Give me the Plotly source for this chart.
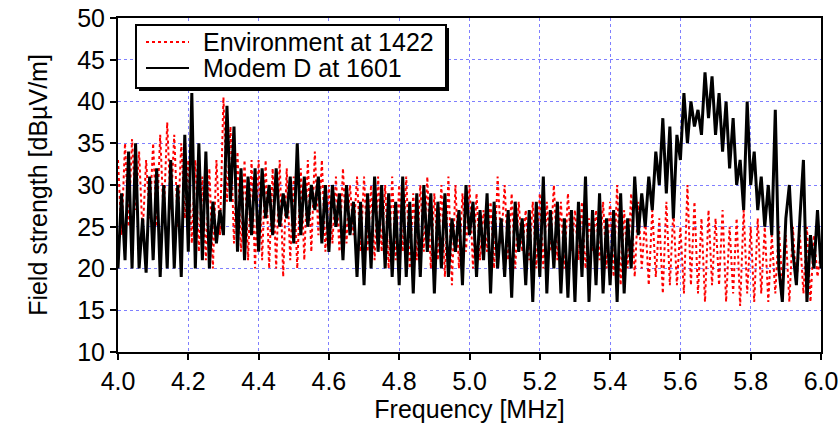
import numpy as np
import plotly.graph_objects as go

# frequency sweep, 0.01 MHz steps from 4.0 to 6.0 MHz
freq_mhz = np.round(np.linspace(4.0, 6.0, 201), 2)

# Environment at 1422 (dBuV/m)
environment = [
    33, 24, 35, 25, 35.5, 27, 34, 24, 33, 26,
    35, 25, 36, 26, 37.5, 27, 36, 25, 35, 26,
    33, 23, 33, 22, 31, 21, 32, 20, 33, 24,
    40.5, 28, 37, 23, 34, 22, 33, 21, 33, 20,
    33, 21, 33, 20, 32, 20, 33, 19, 32, 21,
    31, 20, 32, 21, 33, 22, 34, 24, 33, 22,
    30, 23, 31, 22, 32, 23, 30, 24, 31, 22,
    31, 22, 30, 21, 31, 22, 30, 20, 31, 21,
    30, 22, 31, 20, 29, 21, 30, 22, 31, 20,
    29, 21, 30, 19, 31, 18, 30, 20, 29, 22,
    30, 20, 29, 21, 27, 22, 28, 20, 31, 23,
    30, 21, 29, 20, 28, 22, 27, 21, 28, 20,
    29, 20, 28, 22, 30, 21, 28, 20, 29, 22,
    27, 21, 28, 20, 26, 22, 27, 21, 28, 20,
    28, 19, 30, 18, 27, 20, 29, 19, 28, 20,
    26, 18, 27, 19, 26, 17, 28, 18, 27, 18,
    25, 17, 30, 18, 28, 17, 26, 16, 27, 18,
    26, 18, 27, 16, 25, 17, 26, 15.5, 27, 17,
    25, 16, 26, 17, 25, 16, 24, 17, 25, 18,
    24, 16, 25, 18, 24, 17, 25, 16, 24, 19,
    22,
]

# Modem D at 1601 (dBuV/m)
modem_d = [
    20, 29, 21, 34, 20, 35, 20, 26, 19.5, 31,
    21, 32, 19, 30, 20, 33, 20, 30, 19, 36,
    22, 41, 20, 35, 21, 34, 20, 28, 23, 27,
    24, 39.5, 28, 37, 22, 32, 21, 31, 24, 32,
    22, 32, 26, 30, 24, 32, 25, 29, 26, 31,
    23, 35, 24, 31, 25, 30, 27, 31, 23, 30,
    22, 30, 25, 29, 21, 30, 24, 28, 19, 28,
    18, 29, 20, 31, 22, 30, 20, 29, 19, 28,
    18, 31, 19, 28, 17, 29, 19, 30, 22, 29,
    17, 28, 20, 29, 19, 26, 22, 27, 18, 30,
    24, 28, 19, 27, 21, 29, 17, 28, 20, 26,
    19, 27, 16.5, 28, 22, 26, 18, 27, 16, 28,
    19, 31, 17, 27, 20, 28, 17, 26, 16.5, 27,
    16, 28, 19, 31, 16, 27, 18, 29, 17, 26,
    18, 27, 16, 29, 17, 26, 20, 31, 24, 29,
    25, 31, 27, 34, 30, 38, 29, 37, 26, 36,
    33, 41, 35, 40, 37, 39, 36, 43.5, 38, 43,
    36, 41, 34, 40, 32, 38, 30, 33, 27, 40,
    30, 34, 27, 31, 25, 30, 24, 39, 20, 16,
    26, 30, 22, 18, 26, 33, 16, 24, 20, 27,
    20,
]

series_names = ["Environment at 1422", "Modem D at 1601"]
x_ticks = [4.0, 4.2, 4.4, 4.6, 4.8, 5.0, 5.2, 5.4, 5.6, 5.8, 6.0]
y_ticks = [10, 15, 20, 25, 30, 35, 40, 45, 50]

FONT = "Liberation Sans, Arial, Helvetica, sans-serif"
W, H = 838, 440
L, R, T, B = 118, 17, 18, 88

RED_LINE = dict(color="#ff0000", width=2, dash="dot")
BLACK_LINE = dict(color="black", width=3)

fig = go.Figure()
fig.add_trace(go.Scatter(x=freq_mhz, y=environment, mode="lines",
                         name=series_names[0], line=RED_LINE))
fig.add_trace(go.Scatter(x=freq_mhz, y=modem_d, mode="lines",
                         name=series_names[1], line=BLACK_LINE))

axis_style = dict(showgrid=True, gridcolor="#7f7fff", gridwidth=1, griddash="dot",
                  showline=True, linecolor="black", linewidth=2, mirror=True,
                  ticks="outside", ticklen=6, tickwidth=2, tickcolor="black",
                  zeroline=False, automargin=False, ticklabeloverflow="allow",
                  tickfont=dict(size=25, color="black"))
inner_ticks = dict(ticks="inside", ticklen=6, tickwidth=2, tickcolor="black",
                   showticklabels=False, showgrid=False, zeroline=False,
                   showline=False, automargin=False)

fig.update_layout(
    width=W, height=H,
    margin=dict(l=L, r=R, t=T, b=B),
    paper_bgcolor="white", plot_bgcolor="white",
    font=dict(family=FONT, size=25, color="black"),
    showlegend=False,
    xaxis=dict(range=[4.0, 6.0], tickvals=x_ticks,
               ticktext=[f"{v:.1f}" for v in x_ticks],
               title=dict(text="Frequency [MHz]", standoff=0, font=dict(size=25)),
               **axis_style),
    yaxis=dict(range=[10, 50], tickvals=y_ticks,
               title=dict(text="Field strength [dBµV/m]", standoff=22,
                          font=dict(size=25)),
               **axis_style),
    # inner half of the crossing tick marks
    xaxis2=dict(overlaying="x", anchor="y", side="bottom", range=[4.0, 6.0],
                tickvals=x_ticks, **inner_ticks),
    yaxis2=dict(overlaying="y", anchor="x", side="left", range=[10, 50],
                tickvals=y_ticks, **inner_ticks),
)

# hand-drawn legend box with drop shadow (pixel positions -> paper coords)
def px(xp, yp):
    return (xp - L) / (W - L - R), (H - B - yp) / (H - T - B)

box_l, box_t, box_r, box_b = 136, 25, 446, 88
shadow = 3
for dx, fill, border in [(shadow, "black", 0), (0, "white", 2)]:
    x0, y0 = px(box_l + dx, box_b + dx)
    x1, y1 = px(box_r + dx, box_t + dx)
    fig.add_shape(type="rect", xref="paper", yref="paper", x0=x0, y0=y0, x1=x1, y1=y1,
                  fillcolor=fill, line=dict(color="black", width=border), layer="above")

for row_y, name, style in [(42, series_names[0], RED_LINE), (68, series_names[1], BLACK_LINE)]:
    lx0, ly = px(146, row_y)
    lx1, _ = px(189, row_y)
    fig.add_shape(type="line", xref="paper", yref="paper", x0=lx0, x1=lx1, y0=ly, y1=ly,
                  line=dict(style, width=2), layer="above")
    tx, _ = px(201, row_y)
    fig.add_annotation(x=tx, y=ly, xref="paper", yref="paper", text=name,
                       showarrow=False, xanchor="left", yanchor="middle",
                       font=dict(size=25, color="black"))

# the page's default body margin would shift the figure by 8px
fig.write_html("out.html", config={"displayModeBar": False},
               post_script="document.body.style.margin='0';")
